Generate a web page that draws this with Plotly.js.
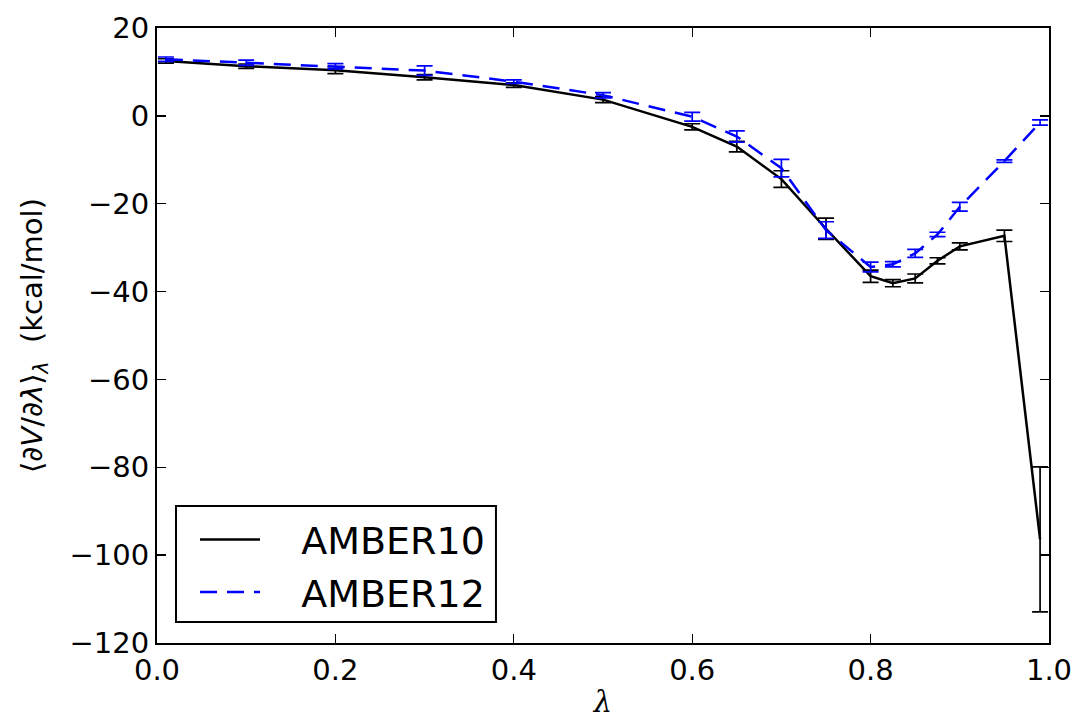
<!DOCTYPE html>
<html>
<head>
<meta charset="utf-8">
<script src="https://cdn.plot.ly/plotly-3.0.1.min.js"></script>
<style>html,body{margin:0;padding:0;background:#fff;}#chart{width:1078px;height:719px;}</style>
</head>
<body>
<div id="chart"></div>
<script>
const lambdas = [0.01, 0.1, 0.2, 0.3, 0.4, 0.5, 0.6, 0.65, 0.7, 0.75, 0.8, 0.825, 0.85, 0.875, 0.9, 0.95, 0.99];
const amber10 = [12.5, 11.3, 10.4, 8.8, 7.0, 3.7, -2.5, -7.0, -14.4, -25.7, -36.5, -38.1, -37.0, -33.0, -29.7, -27.3, -96.4];
const amber10Err = [0.5, 0.5, 0.8, 0.6, 0.5, 0.7, 0.7, 1.2, 1.9, 2.4, 1.4, 0.8, 1.0, 0.7, 0.8, 1.3, 16.5];
const amber12 = [12.9, 12.1, 11.3, 10.3, 7.8, 4.7, -0.2, -4.7, -11.9, -26.0, -34.4, -33.8, -31.3, -27.0, -20.7, -10.3, -1.5];
const amber12Err = [0.5, 0.6, 0.6, 1.1, 0.4, 0.6, 1.0, 1.3, 2.0, 1.9, 1.1, 0.6, 0.9, 0.5, 1.0, 0.3, 0.6];
const seriesNames = ['AMBER10', 'AMBER12'];
const xTicks = [0.0, 0.2, 0.4, 0.6, 0.8, 1.0];
const xTickLabels = ['0.0', '0.2', '0.4', '0.6', '0.8', '1.0'];
const yTicks = [-120, -100, -80, -60, -40, -20, 0, 20];
const yTickLabels = ['\u2212120', '\u2212100', '\u221280', '\u221260', '\u221240', '\u221220', '0', '20'];

const pad = '\u00a0\u00a0\u00a0';
const traces = [
  {
    x: lambdas, y: amber10, name: pad + seriesNames[0], mode: 'lines', type: 'scatter',
    line: {color: '#000000', width: 2.5},
    error_y: {type: 'data', array: amber10Err, visible: true, color: '#000000', thickness: 1.7, width: 8}
  },
  {
    x: lambdas, y: amber12, name: pad + seriesNames[1], mode: 'lines', type: 'scatter',
    line: {color: '#0000ff', width: 2.5, dash: '17px,10px'},
    error_y: {type: 'data', array: amber12Err, visible: true, color: '#0000ff', thickness: 1.7, width: 8}
  }
];

const axisFont = {family: 'DejaVu Sans, sans-serif', size: 29, color: '#000'};
const layout = {
  width: 1078, height: 719,
  margin: {l: 157, r: 29, t: 28, b: 76},
  paper_bgcolor: '#fff', plot_bgcolor: '#fff',
  showlegend: true,
  legend: {
    x: 0.0426, y: 0.219, xanchor: 'left', yanchor: 'top',
    borderwidth: 0, bgcolor: 'rgba(0,0,0,0)',
    font: {family: 'DejaVu Sans, sans-serif', size: 38, color: '#000'},
    itemwidth: 60, tracegroupgap: 0
  },
  shapes: [{
    type: 'rect', xref: 'paper', yref: 'paper',
    x0: 0.0213, x1: 0.380, y0: 0.0341, y1: 0.2228,
    line: {color: '#000', width: 2}, fillcolor: '#fff', layer: 'above'
  }],
  xaxis: {
    range: [0, 1], tickvals: xTicks, ticktext: xTickLabels,
    ticks: 'inside', ticklen: 9, tickwidth: 1.3, tickcolor: '#000',
    showline: true, linecolor: '#000', linewidth: 2, mirror: 'allticks',
    showgrid: false, zeroline: false, tickfont: axisFont,
    title: {text: '<i>λ</i>', font: {family: 'DejaVu Serif, serif', size: 29, color: '#000'}, standoff: 8}
  },
  yaxis: {
    range: [-120, 20], tickvals: yTicks, ticktext: yTickLabels,
    ticks: 'inside', ticklen: 9, tickwidth: 1.3, tickcolor: '#000',
    showline: true, linecolor: '#000', linewidth: 2, mirror: 'allticks',
    showgrid: false, zeroline: false, tickfont: axisFont,
    title: {text: '⟨∂<i>V</i>/∂<i>λ</i>⟩<sub><i>λ</i></sub>  (kcal/mol)', font: {family: 'DejaVu Sans, sans-serif', size: 29, color: '#000'}, standoff: 18}
  }
};

Plotly.newPlot('chart', traces, layout, {displayModeBar: false, staticPlot: true});
</script>
</body>
</html>
